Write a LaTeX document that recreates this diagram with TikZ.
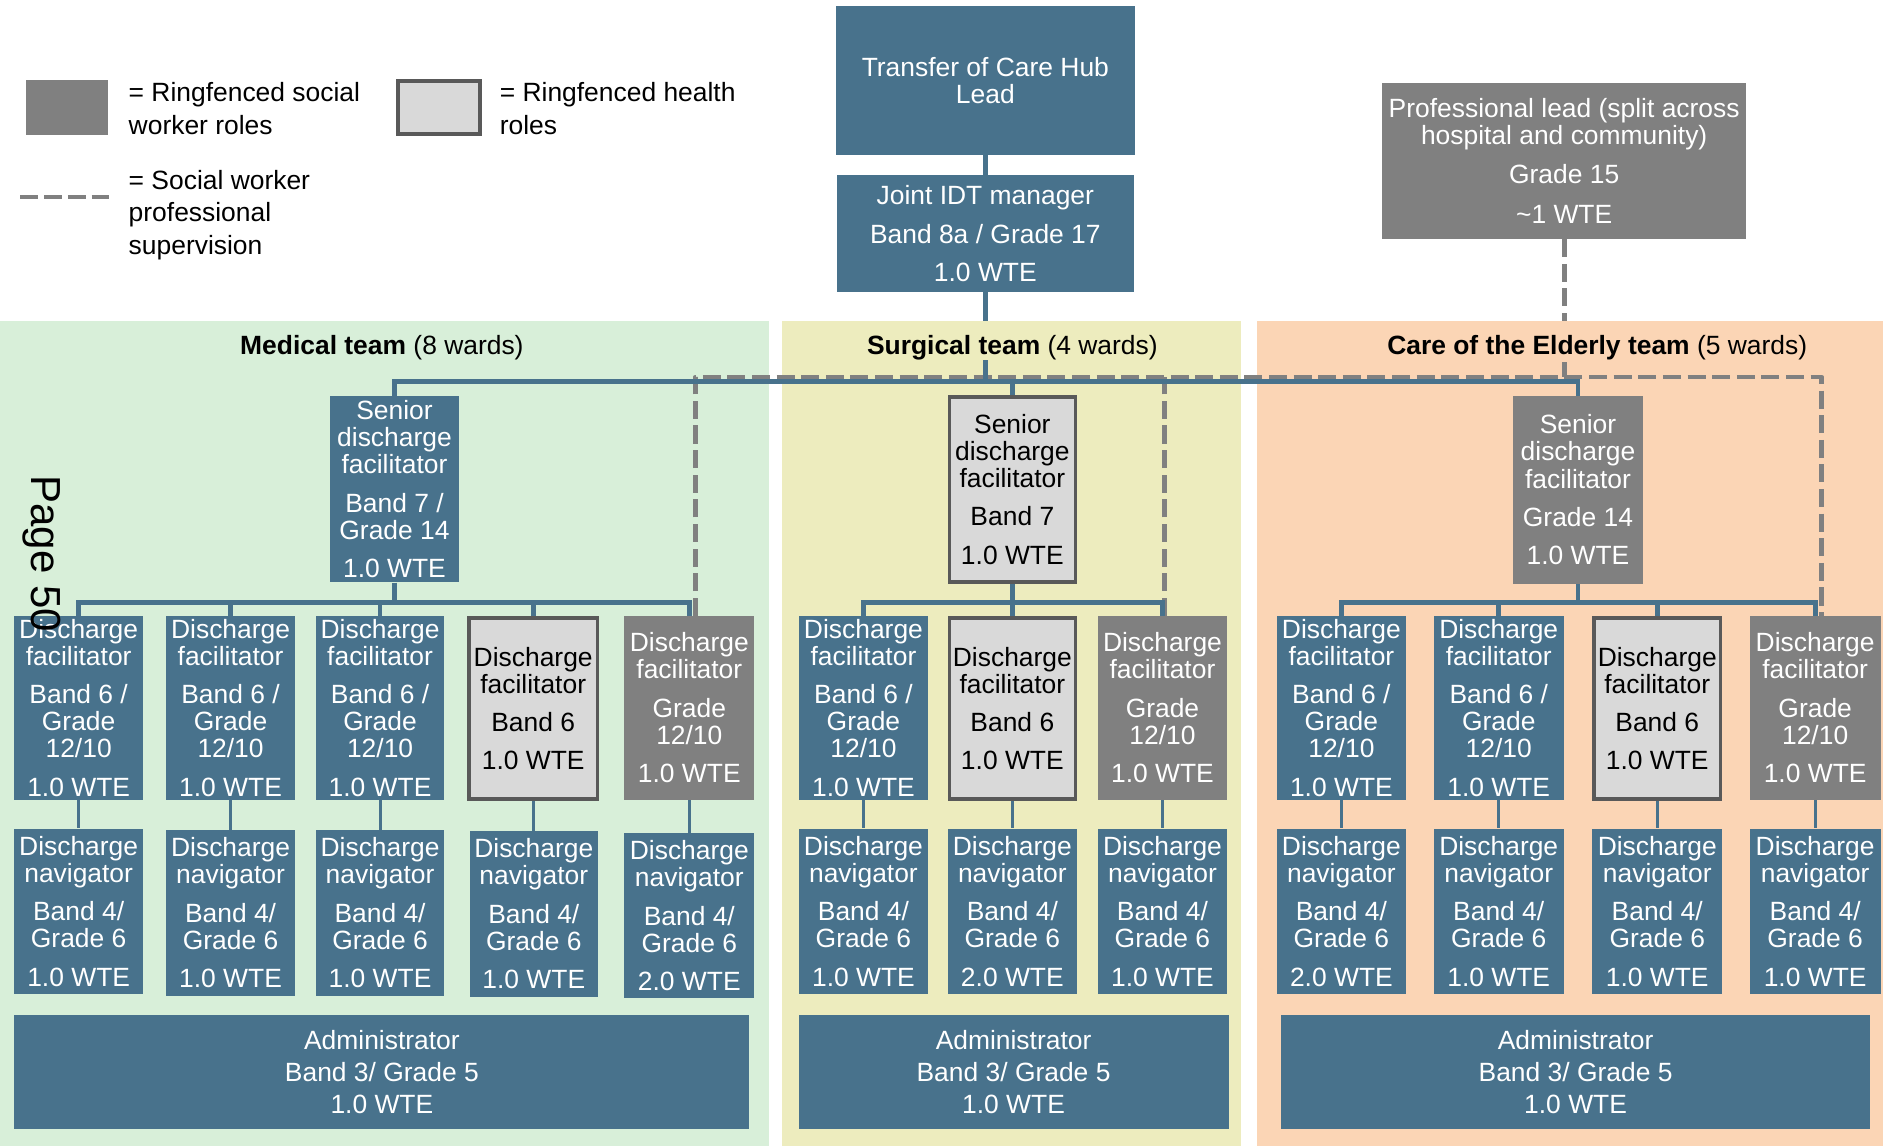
\documentclass[tikz,border=0pt]{standalone}
\usepackage{fontspec}
\setmainfont{Liberation Sans}
\definecolor{hubblue}{RGB}{72,114,140}
\definecolor{swgrey}{RGB}{128,128,128}
\definecolor{hlgrey}{RGB}{217,217,217}
\definecolor{hlborder}{RGB}{89,89,89}
\definecolor{medbg}{RGB}{216,239,217}
\definecolor{surbg}{RGB}{237,236,190}
\definecolor{coebg}{RGB}{251,213,181}
\newcommand\boxfont{\fontsize{22}{22.5}\selectfont}
\newcommand\legfont{\fontsize{22}{27}\selectfont}
\newcommand\pg{\\[9.5pt]}
\pgfdeclarelayer{areas}
\pgfdeclarelayer{links}
\pgfsetlayers{areas,links,main}
\tikzset{
  rolebox/.style={rectangle, inner sep=0pt, align=center, font=\boxfont},
  bluebox/.style={rolebox, fill=hubblue, text=white},
  greybox/.style={rolebox, fill=swgrey, text=white},
  lightbox/.style={rolebox, fill=hlgrey, draw=hlborder, line width=3pt, text=black},
  conn/.style={draw=hubblue, line width=4pt},
  supline/.style={draw=swgrey, line width=4pt, line join=round, dash pattern=on 15pt off 5.5pt},
  teamhead/.style={inner xsep=6pt, inner ysep=0pt, text height=28.5pt, text depth=4.5pt, font=\boxfont, anchor=base},
  legtext/.style={anchor=west, align=left, inner sep=0pt, font=\legfont},
  wsz/.style={minimum width=107pt, minimum height=153pt},
  lsz/.style={minimum width=105pt, minimum height=151pt},
  nsz/.style={minimum width=107pt, minimum height=138pt}
}
\begin{document}
\begin{tikzpicture}[x=1pt, y=-1pt]
\useasboundingbox (0,0) rectangle (1568,954);

% team areas
\begin{pgfonlayer}{areas}
\fill[medbg] (0,267) rectangle (640,954);
\fill[surbg] (651,267) rectangle (1033,954);
\fill[coebg] (1047,267) rectangle (1568,954);
\end{pgfonlayer}

% legend
\node[greybox, minimum width=68pt, minimum height=45pt] (lgsw) at (56,89.5) {};
\node[legtext] (lgswt) at (107,90.5) {= Ringfenced social\\worker roles};
\node[lightbox, minimum width=68pt, minimum height=44pt] (lghl) at (365.5,89.5) {};
\node[legtext] (lghlt) at (416,90.5) {= Ringfenced health\\roles};
\coordinate (lgd1) at (17,164);
\coordinate (lgd2) at (91,164);
\draw[supline, dash pattern=on 14.75pt off 5pt] (lgd1) -- (lgd2);
\node[legtext] (lgdt) at (107,179) {= Social worker\\professional\\supervision};

% top of the hierarchy
\node[bluebox, minimum width=249pt, minimum height=124pt] (tl) at (820.5,67) {Transfer of Care Hub\\Lead};
\node[bluebox, minimum width=247pt, minimum height=97pt] (jm) at (820.5,194.5) {Joint IDT manager\pg Band 8a / Grade 17\pg 1.0 WTE};
\node[greybox, minimum width=303pt, minimum height=130pt] (pl) at (1302.5,134) {Professional lead (split across\\hospital and community)\\[10pt]Grade 15\\[11pt]\textasciitilde1 WTE};

% medical team
\node[bluebox, minimum width=107pt, minimum height=155pt] (ms) at (328.5,407.5) {Senior\\discharge\\facilitator\pg Band 7 /\\Grade 14\pg 1.0 WTE};
\node[bluebox, wsz] (mf1) at (65.5,589.5) {Discharge\\facilitator\pg Band 6 /\\Grade\\12/10\pg 1.0 WTE};
\node[bluebox, wsz, minimum width=108pt] (mf2) at (192,589.5) {Discharge\\facilitator\pg Band 6 /\\Grade\\12/10\pg 1.0 WTE};
\node[bluebox, wsz] (mf3) at (316.5,589.5) {Discharge\\facilitator\pg Band 6 /\\Grade\\12/10\pg 1.0 WTE};
\node[lightbox, lsz, minimum width=107pt] (mf4) at (444,590) {Discharge\\facilitator\pg Band 6\pg 1.0 WTE};
\node[greybox, wsz, minimum width=108pt] (mf5) at (574,589.5) {Discharge\\facilitator\pg Grade\\12/10\pg 1.0 WTE};
\node[bluebox, nsz] (mn1) at (65.5,759) {Discharge\\navigator\pg Band 4/\\Grade 6\pg 1.0 WTE};
\node[bluebox, nsz, minimum width=108pt] (mn2) at (192,760) {Discharge\\navigator\pg Band 4/\\Grade 6\pg 1.0 WTE};
\node[bluebox, nsz] (mn3) at (316.5,760) {Discharge\\navigator\pg Band 4/\\Grade 6\pg 1.0 WTE};
\node[bluebox, nsz] (mn4) at (444.5,761) {Discharge\\navigator\pg Band 4/\\Grade 6\pg 1.0 WTE};
\node[bluebox, nsz, minimum width=108pt, minimum height=137pt] (mn5) at (574,762.5) {Discharge\\navigator\pg Band 4/\\Grade 6\pg 2.0 WTE};
\node[bluebox, minimum width=612pt, minimum height=95pt] (ma) at (318,892.5) {Administrator\\[4pt]Band 3/ Grade 5\\[4pt]1.0 WTE};

% surgical team
\node[lightbox, minimum width=105pt, minimum height=154pt] (ss) at (843,407.5) {Senior\\discharge\\facilitator\pg Band 7\pg 1.0 WTE};
\node[bluebox, wsz, minimum width=108pt] (sf1) at (719,589.5) {Discharge\\facilitator\pg Band 6 /\\Grade\\12/10\pg 1.0 WTE};
\node[lightbox, lsz] (sf2) at (843,590) {Discharge\\facilitator\pg Band 6\pg 1.0 WTE};
\node[greybox, wsz, minimum width=108pt] (sf3) at (968,589.5) {Discharge\\facilitator\pg Grade\\12/10\pg 1.0 WTE};
\node[bluebox, nsz, minimum width=108pt] (sn1) at (719,759) {Discharge\\navigator\pg Band 4/\\Grade 6\pg 1.0 WTE};
\node[bluebox, nsz, minimum width=108pt] (sn2) at (843,759) {Discharge\\navigator\pg Band 4/\\Grade 6\pg 2.0 WTE};
\node[bluebox, nsz, minimum width=108pt] (sn3) at (968,759) {Discharge\\navigator\pg Band 4/\\Grade 6\pg 1.0 WTE};
\node[bluebox, minimum width=358pt, minimum height=95pt] (sa) at (844,892.5) {Administrator\\[4pt]Band 3/ Grade 5\\[4pt]1.0 WTE};

% care of the elderly team
\node[greybox, minimum width=108pt, minimum height=156pt] (es) at (1314,408) {Senior\\discharge\\facilitator\pg Grade 14\pg 1.0 WTE};
\node[bluebox, wsz, minimum width=108pt] (ef1) at (1117,589.5) {Discharge\\facilitator\pg Band 6 /\\Grade\\12/10\pg 1.0 WTE};
\node[bluebox, wsz, minimum width=108pt] (ef2) at (1248,589.5) {Discharge\\facilitator\pg Band 6 /\\Grade\\12/10\pg 1.0 WTE};
\node[lightbox, lsz] (ef3) at (1380,590) {Discharge\\facilitator\pg Band 6\pg 1.0 WTE};
\node[greybox, wsz, minimum width=109pt] (ef4) at (1511.5,589.5) {Discharge\\facilitator\pg Grade\\12/10\pg 1.0 WTE};
\node[bluebox, nsz, minimum width=108pt] (en1) at (1117,759) {Discharge\\navigator\pg Band 4/\\Grade 6\pg 2.0 WTE};
\node[bluebox, nsz, minimum width=108pt] (en2) at (1248,759) {Discharge\\navigator\pg Band 4/\\Grade 6\pg 1.0 WTE};
\node[bluebox, nsz, minimum width=108pt] (en3) at (1380,759) {Discharge\\navigator\pg Band 4/\\Grade 6\pg 1.0 WTE};
\node[bluebox, nsz, minimum width=109pt] (en4) at (1511.5,759) {Discharge\\navigator\pg Band 4/\\Grade 6\pg 1.0 WTE};
\node[bluebox, minimum width=490pt, minimum height=95pt] (ea) at (1312,892.5) {Administrator\\[4pt]Band 3/ Grade 5\\[4pt]1.0 WTE};

% reporting lines, drawn beneath the boxes
\coordinate (mainy) at (0,317.5);
\coordinate (dashy) at (0,314);
\coordinate (suby) at (0,502);
\begin{pgfonlayer}{links}
  % social worker professional supervision
  \draw[supline] (pl.south) -- (pl.south |- dashy);
  \draw[supline] ([xshift=5pt]mf5.north) |- ([xshift=5.5pt]ef4.north |- dashy) -- ([xshift=5.5pt]ef4.north);
  \draw[supline] ([xshift=2pt]sf3.north) -- ([xshift=2pt]sf3.north |- dashy);
  % line management
  \draw[conn] (tl.south) -- (jm.north);
  \draw[conn] (jm.south) -- (jm.south |- mainy);
  \draw[conn] (ms.north) |- (es.north |- mainy) -- (es.north);
  \draw[conn] (ss.north) -- (ss.north |- mainy);
  % medical
  \draw[conn] (ms.south) -- (ms.south |- suby);
  \draw[conn] (mf1.north) |- (mf5.north |- suby) -- (mf5.north);
  \foreach \n in {mf2,mf3,mf4} \draw[conn] (\n.north) -- (\n.north |- suby);
  % surgical
  \draw[conn] (ss.south) -- (ss.south |- suby);
  \draw[conn] (sf1.north) |- (sf3.north |- suby) -- (sf3.north);
  \draw[conn] (sf2.north) -- (sf2.north |- suby);
  % care of the elderly
  \draw[conn] (es.south) -- (es.south |- suby);
  \draw[conn] (ef1.north) |- (ef4.north |- suby) -- (ef4.north);
  \foreach \n in {ef2,ef3} \draw[conn] (\n.north) -- (\n.north |- suby);
  % facilitators to navigators
  \foreach \f/\v in {mf1/mn1,mf2/mn2,mf3/mn3,mf4/mn4,mf5/mn5,sf1/sn1,sf2/sn2,sf3/sn3,ef1/en1,ef2/en2,ef3/en3,ef4/en4}
    \draw[conn, line width=2.5pt] (\f.south) -- (\f.south |- \v.north);
\end{pgfonlayer}

% team headings, masking the lines that pass behind them
\node[teamhead, fill=medbg] (mh) at (318,295.5) {\textbf{Medical team} (8 wards)};
\node[teamhead, fill=surbg] (sh) at (843,295.5) {\textbf{Surgical team} (4 wards)};
\node[teamhead, fill=coebg] (eh) at (1330,295.5) {\textbf{Care of the Elderly team} (5 wards)};

% page number
\node[rotate=-90, inner sep=0pt, font=\fontsize{35}{35}\selectfont] (pgno) at (35,461) {Page 50};
\end{tikzpicture}
\end{document}
